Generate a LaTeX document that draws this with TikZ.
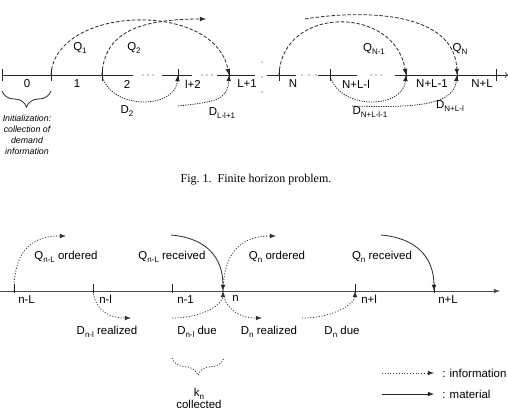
\documentclass[tikz,border=0pt]{standalone}
\usepackage{fontspec}
\setmainfont{Liberation Sans}
\newfontfamily\capfont{Liberation Serif}
\usetikzlibrary{positioning, arrows, decorations.pathreplacing}
\newcommand\subix[1]{\raisebox{-0.55ex}{\fontsize{6}{6}\selectfont#1}}
\tikzset{
    lbl/.style={font=\fontsize{8.6}{10}\selectfont, inner sep=0pt},
    note/.style={font=\fontsize{6.6}{8.2}\selectfont\itshape, align=center, inner sep=0pt},
    axis/.style={draw=black!85, line width=0.6pt},
    order/.style={draw=black!85, line width=0.6pt, dash pattern=on 2.6pt off 1.4pt, -latex},
    demand/.style={draw=black!85, line width=0.6pt, dash pattern=on 0.9pt off 0.9pt, -latex},
    info/.style={draw=black!80, line width=0.6pt, dash pattern=on 0.8pt off 1.3pt, -latex},
    mat/.style={draw=black!85, line width=0.6pt, -latex},
}
\begin{document}
\begin{tikzpicture}[x=0.75pt, y=-0.75pt]
    \useasboundingbox (0,0) rectangle (508,410);
    % finite horizon: time axis with breaks
    \coordinate (a0) at (2,75);
    \coordinate (a1) at (51,75);
    \coordinate (a2) at (102,75);
    \coordinate (al2) at (178,75);
    \coordinate (aL1) at (229,75);
    \coordinate (aN) at (279,75);
    \coordinate (aNLl) at (330,75);
    \coordinate (aNL1) at (406,75);
    \coordinate (aNL) at (457,75);
    \coordinate (aend) at (496,75);
    \draw[axis] (2,75) -- (133,75);
    \draw[axis] (162,75) -- (192,75);
    \draw[axis] (217,75) -- (255,75);
    \draw[axis] (267,75) -- (296,75);
    \draw[axis] (318,75) -- (357,75);
    \draw[axis, -to] (395,75) -- (508,75);
    \foreach \x in {143,148,153,202,207,212,302,309,316,371,376,381}
        \fill[black!85] (\x,75) circle (0.5pt);
    \foreach \y in {62,77,92}
        \fill[black!85] (262,\y) circle (0.5pt);
    \foreach \t in {a0,a1,a2,al2,aL1,aN,aNLl,aNL1,aNL,aend}
        \draw[axis] (\t) ++(0,-6) -- ++(0,12);
    \node [lbl] (p0) at (27,84) {0};
    \node [lbl] (p1) at (77,84) {1};
    \node [lbl] (p2) at (127,84) {2};
    \node [lbl] (pl2) at (193,84) {l+2};
    \node [lbl] (pL1) at (247,84) {L+1};
    \node [lbl] (pN) at (293,84) {N};
    \node [lbl] (pNLl) at (356,84) {N+L-l};
    \node [lbl] (pNL1) at (432,84) {N+L-1};
    \node [lbl] (pNL) at (482,84) {N+L};
    % orders above the axis
    \coordinate (q2end) at (206,19);
    \coordinate (qNbeg) at (305,19);
    \draw[order] (a1) .. controls +(4,-70) and +(-14,-75) .. (aL1);
    \draw[order] (a2) .. controls +(2,-43) and +(-66,0) .. (q2end);
    \draw[order] (aN) .. controls +(3,-70) and +(-11,-70) .. (aNL1);
    \draw[order] (qNbeg) .. controls +(55,-9) and +(-2,-65) .. (aNL);
    \node [lbl] (Q1) at (80,48) {Q\subix{1}};
    \node [lbl] (Q2) at (134,48) {Q\subix{2}};
    \node [lbl] (QN1) at (374,49) {Q\subix{N-1}};
    \node [lbl] (QN) at (460,49) {Q\subix{N}};
    % demands below the axis
    \coordinate (dLbeg) at (178,106);
    \coordinate (dNbeg) at (352,106);
    \draw[demand] (a2) .. controls +(8,35) and +(-3,35) .. (al2);
    \draw[demand] (dLbeg) .. controls +(37,-4) and +(-1,25) .. (aL1);
    \draw[demand] (aNLl) .. controls +(8,35) and +(-3,35) .. (aNL1);
    \draw[demand] (dNbeg) .. controls +(65,2) and +(-3,30) .. (aNL);
    \node [lbl] (D2) at (127,111) {D\subix{2}};
    \node [lbl] (DL) at (222,113) {D\subix{L-l+1}};
    \node [lbl] (DN1) at (370,112) {D\subix{N+L-l-1}};
    \node [lbl] (DN) at (450,106) {D\subix{N+L-l}};
    \draw[axis, decorate, decoration={brace, mirror, amplitude=12pt}] (2,91) -- (51,91);
    \node [note] (init) at (27,135) {Initialization:\\collection of\\demand\\information};
    \node [font=\capfont\fontsize{9}{11}\selectfont, inner sep=0pt] (cap) at (256,180) {Fig.~1.\ \ Finite horizon problem.};

    % one period n: events on the axis
    \coordinate (bL) at (14,291);
    \coordinate (bl) at (93,291);
    \coordinate (b1) at (172,291);
    \coordinate (bn) at (223,291);
    \coordinate (bnl) at (355,291);
    \coordinate (bnL) at (434,291);
    \draw[axis, draw=black!70, -latex] (0,291) -- (500,291);
    \foreach \t in {bL,bl,b1,bnl,bnL}
        \draw[axis] (\t) ++(0,-7) -- ++(0,9);
    \node [lbl, anchor=north west] (nL) at (18,295) {n-L};
    \node [lbl, anchor=north west] (nl) at (99,295) {n-l};
    \node [lbl, anchor=north west] (n1) at (177,295) {n-1};
    \node [lbl, anchor=north west] (n0) at (232,295) {n};
    \node [lbl, anchor=north west] (nlp) at (361,295) {n+l};
    \node [lbl, anchor=north west] (nLp) at (438,295) {n+L};
    \coordinate (qoL) at (66,236);
    \coordinate (qrL) at (171,235);
    \coordinate (qon) at (276,236);
    \coordinate (qrn) at (381,235);
    \draw[info] (bL) .. controls +(0,-45) and +(-30,0) .. (qoL);
    \draw[mat] (qrL) .. controls +(34,3) and +(0,-35) .. (bn);
    \draw[info] (bn) .. controls +(1,-43) and +(-31,0) .. (qon);
    \draw[mat] (qrn) .. controls +(34,3) and +(0,-35) .. (bnL);
    \node [lbl] (QoL) at (66,257) {Q\subix{n-L} ordered};
    \node [lbl] (QrL) at (172,257) {Q\subix{n-L} received};
    \node [lbl] (Qon) at (277,257) {Q\subix{n} ordered};
    \node [lbl] (Qrn) at (382,257) {Q\subix{n} received};
    \coordinate (dlr) at (131,318);
    \coordinate (dld) at (172,318);
    \coordinate (dnr) at (262,318);
    \coordinate (dnd) at (302,318);
    \draw[info] (bl) .. controls +(3,21) and +(-21,0) .. (dlr);
    \draw[info] (dld) .. controls +(33,0) and +(0,12) .. (bn);
    \draw[info] (bn) .. controls +(2,19) and +(-22,0) .. (dnr);
    \draw[info] (dnd) .. controls +(33,0) and +(0,12) .. (bnl);
    \node [lbl] (Dlr) at (107,332) {D\subix{n-l} realized};
    \node [lbl] (Dld) at (197,332) {D\subix{n-l} due};
    \node [lbl] (Dnr) at (269,332) {D\subix{n} realized};
    \node [lbl] (Dnd) at (342,332) {D\subix{n} due};
    \draw[axis, dash pattern=on 0.8pt off 1.3pt, decorate, decoration={brace, mirror, amplitude=13pt}] (172,358) -- (224,358);
    \node [lbl, align=center, font=\fontsize{8.6}{9}\selectfont] (kn) at (199,398) {k\subix{n}\\collected};
    % legend
    \coordinate (li1) at (382,373);
    \coordinate (li2) at (434,373);
    \coordinate (lm1) at (382,394);
    \coordinate (lm2) at (434,394);
    \draw[info] (li1) -- (li2);
    \draw[mat] (lm1) -- (lm2);
    \node [lbl, anchor=west] (linfo) at (442,373) {: information};
    \node [lbl, anchor=west] (lmat) at (442,394) {: material};
\end{tikzpicture}
\end{document}
